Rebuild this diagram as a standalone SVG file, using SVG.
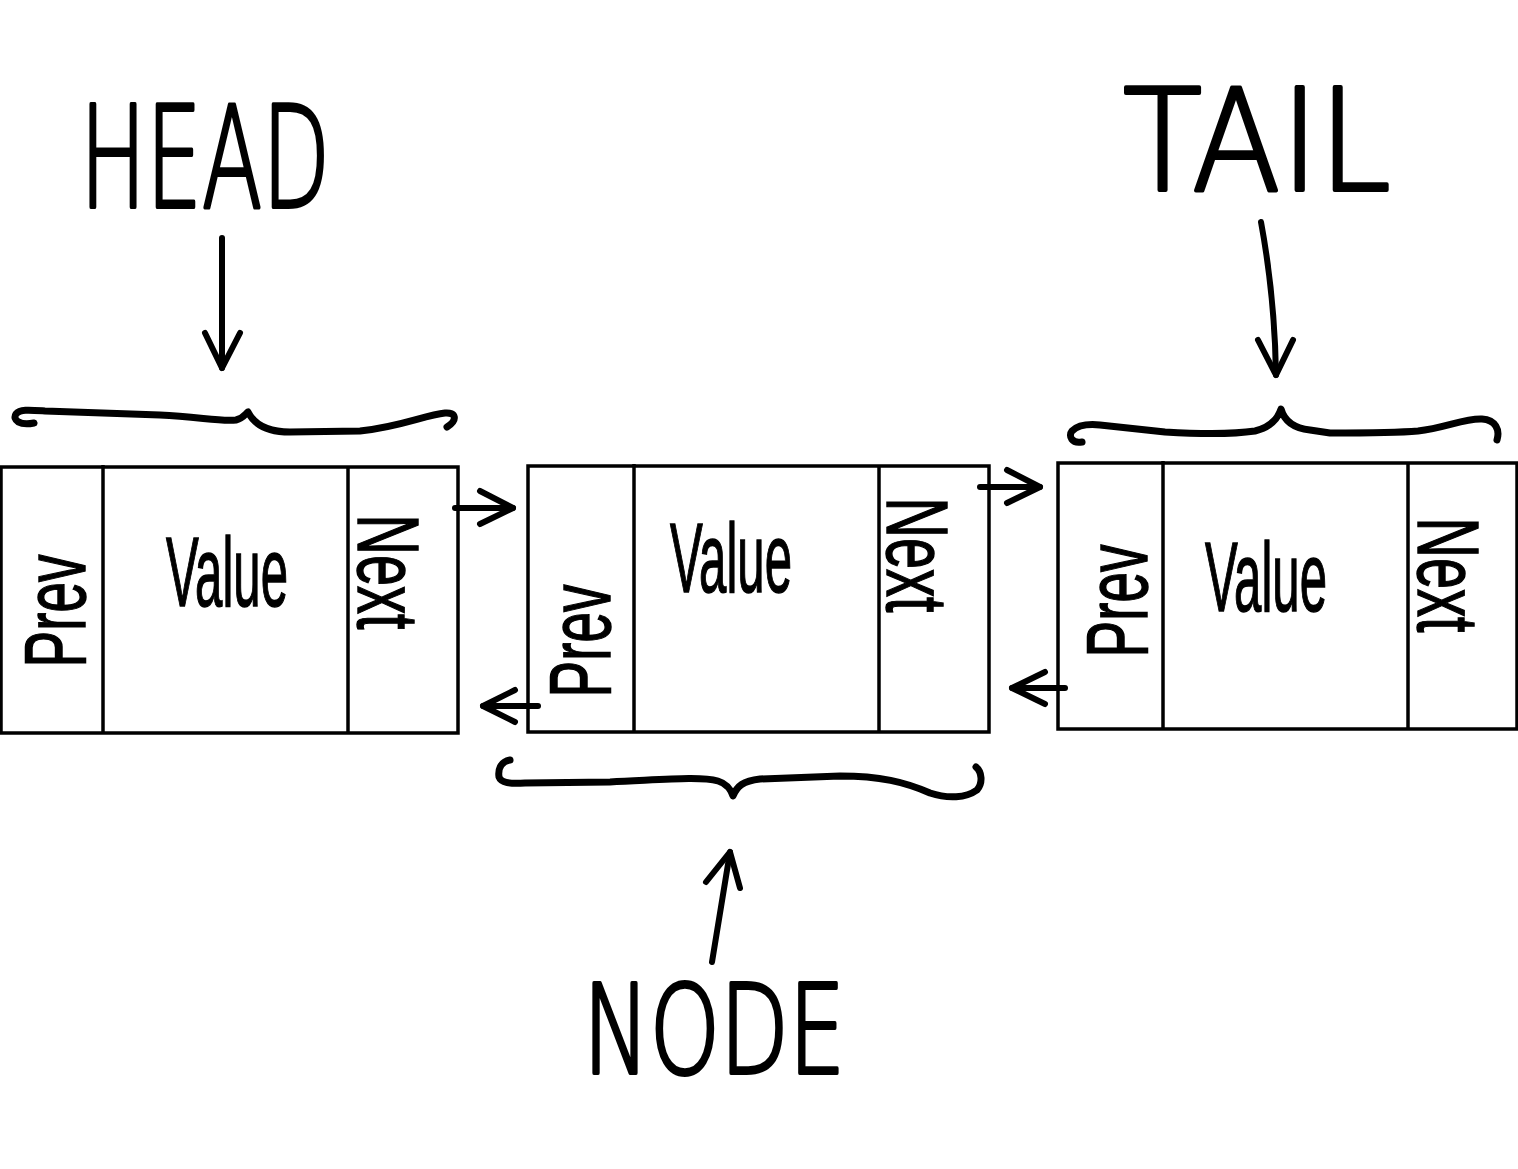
<svg xmlns="http://www.w3.org/2000/svg" width="1518" height="1169" viewBox="0 0 1518 1169">
<style>
.box{fill:#fff;stroke:#000;stroke-width:3.5}
.div{stroke:#000;stroke-width:3.5}
.ln{fill:none;stroke:#000;stroke-width:6;stroke-linecap:round;stroke-linejoin:round}
.br{fill:none;stroke:#000;stroke-width:7;stroke-linecap:round;stroke-linejoin:round}
.lbl{font-family:"DejaVu Sans","Liberation Sans",sans-serif;font-weight:200;fill:#000;stroke:#000;stroke-width:4;stroke-linejoin:round}
.hw{font-family:"Liberation Sans",Arial,sans-serif;fill:#000;stroke:#000;stroke-width:1.5}
</style>
<rect width="1518" height="1169" fill="#fff"/>
<g id="node-head">
  <rect class="box" x="1" y="467" width="457" height="266"/>
  <line class="div" x1="103" y1="465" x2="103" y2="733"/>
  <line class="div" x1="348" y1="467" x2="348" y2="733"/>
  <text class="hw" font-size="98" textLength="122" lengthAdjust="spacingAndGlyphs" x="166" y="606">Value</text>
  <text class="hw" font-size="88" textLength="113" lengthAdjust="spacingAndGlyphs" text-anchor="middle" transform="translate(53,611) rotate(-90)" x="0" y="32">Prev</text>
  <text class="hw" font-size="88" textLength="115" lengthAdjust="spacingAndGlyphs" text-anchor="middle" transform="translate(390,572) rotate(90)" x="0" y="32">Next</text>
</g>
<g id="node-middle">
  <rect class="box" x="528" y="466" width="461" height="266"/>
  <line class="div" x1="634" y1="464" x2="634" y2="732"/>
  <line class="div" x1="879" y1="466" x2="879" y2="732"/>
  <text class="hw" font-size="98" textLength="122" lengthAdjust="spacingAndGlyphs" x="670" y="592">Value</text>
  <text class="hw" font-size="88" textLength="113" lengthAdjust="spacingAndGlyphs" text-anchor="middle" transform="translate(578,641) rotate(-90)" x="0" y="32">Prev</text>
  <text class="hw" font-size="88" textLength="115" lengthAdjust="spacingAndGlyphs" text-anchor="middle" transform="translate(919,555) rotate(90)" x="0" y="32">Next</text>
</g>
<g id="node-tail">
  <rect class="box" x="1058" y="463" width="459" height="266"/>
  <line class="div" x1="1163" y1="461" x2="1163" y2="729"/>
  <line class="div" x1="1408" y1="463" x2="1408" y2="729"/>
  <text class="hw" font-size="98" textLength="122" lengthAdjust="spacingAndGlyphs" x="1205" y="611">Value</text>
  <text class="hw" font-size="88" textLength="113" lengthAdjust="spacingAndGlyphs" text-anchor="middle" transform="translate(1115,601) rotate(-90)" x="0" y="32">Prev</text>
  <text class="hw" font-size="88" textLength="115" lengthAdjust="spacingAndGlyphs" text-anchor="middle" transform="translate(1450,575) rotate(90)" x="0" y="32">Next</text>
</g>
<g id="label-head">
  <text class="lbl" font-size="140" textLength="250" lengthAdjust="spacingAndGlyphs" x="80" y="207">HEAD</text>
</g>
<g id="label-tail">
  <text class="lbl" font-size="140" textLength="268" lengthAdjust="spacingAndGlyphs" x="1123" y="190">TAIL</text>
</g>
<g id="label-node">
  <text class="lbl" font-size="123" textLength="262" lengthAdjust="spacingAndGlyphs" x="583" y="1073">NODE</text>
</g>
<g id="braces">
  <path class="br" d="M34,423 C20,426 12,420 16,414 C20,409 30,410 45,411 L160,415 C200,417 222,422 236,420 C244,418 246,413 248,412 C252,420 262,432 290,432 L360,431 C400,427 425,415 445,413 C456,412 458,420 447,427"/>
  <path class="br" d="M1082,442 C1072,444 1068,436 1072,431 C1078,425 1090,424 1100,425 L1165,432 C1200,434 1235,434 1255,431 C1272,427 1278,418 1281,409 C1284,420 1292,428 1310,430 L1330,433 C1360,433 1395,433 1418,431 C1445,428 1465,418 1482,419 C1496,420 1500,430 1497,440"/>
  <path class="br" d="M510,760 C500,762 498,770 499,777 C501,783 510,784 525,783 L610,782 C660,780 700,776 718,781 C728,784 731,790 733,796 C737,786 743,781 760,779 L840,776 C880,776 905,782 930,793 C948,799 966,798 977,790 C983,783 982,772 976,767"/>
</g>
<g id="connectors">
  <line class="ln" x1="222" y1="238" x2="222" y2="368"/>
  <polyline class="ln" points="205,333 222,368 240,333"/>
  <path class="ln" d="M1261,222 C1268,260 1275,310 1276,375"/>
  <polyline class="ln" points="1258,340 1276,375 1293,340"/>
  <line class="ln" x1="712" y1="962" x2="730" y2="852"/>
  <polyline class="ln" points="706,882 730,852 740,888"/>
  <line class="ln" x1="455" y1="508" x2="513" y2="508"/>
  <polyline class="ln" points="480,491 513,508 480,524"/>
  <line class="ln" x1="980" y1="487" x2="1040" y2="487"/>
  <polyline class="ln" points="1007,470 1040,487 1007,503"/>
  <line class="ln" x1="538" y1="706" x2="483" y2="706"/>
  <polyline class="ln" points="515,690 483,706 515,722"/>
  <line class="ln" x1="1065" y1="688" x2="1012" y2="688"/>
  <polyline class="ln" points="1045,672 1012,688 1045,704"/>
</g>
</svg>
